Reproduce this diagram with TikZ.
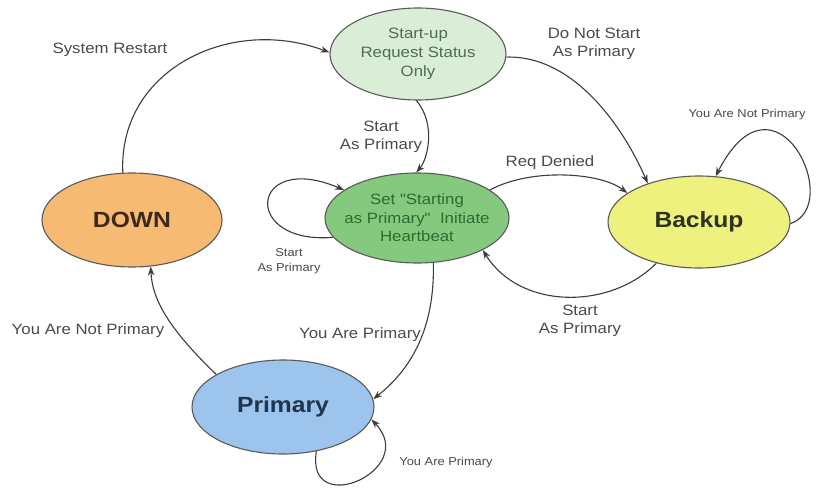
\documentclass[tikz,border=0pt]{standalone}
\usepackage{fontspec}
\setmainfont{Liberation Sans}
\newfontfamily\lfont[FakeStretch=1.12]{Liberation Sans}
\usetikzlibrary{shapes.geometric,arrows.meta}
\definecolor{outl}{HTML}{5A5A5A}
\definecolor{edgec}{HTML}{3C3C3C}
\definecolor{lblc}{HTML}{4A4A4A}
\definecolor{startfill}{HTML}{DAEDD6}
\definecolor{setfill}{HTML}{84C97E}
\definecolor{backfill}{HTML}{EFF17E}
\definecolor{downfill}{HTML}{F7BA73}
\definecolor{primfill}{HTML}{9DC4EC}
\definecolor{starttext}{HTML}{4D6E4D}
\definecolor{settext}{HTML}{2F6A2F}
\definecolor{downtext}{HTML}{3B2A1C}
\definecolor{backtext}{HTML}{2F3320}
\definecolor{primtext}{HTML}{1F3550}
\tikzset{
  state/.style={ellipse, draw=outl, line width=1.1pt, inner sep=0pt, align=center},
  edge/.style={draw=edgec, line width=1.1pt, -{Stealth[length=9pt,width=6.5pt]}},
  lbl/.style={text=lblc, font=\lfont\fontsize{15}{18}\selectfont, align=center, inner sep=0pt},
  slbl/.style={text=lblc, font=\lfont\fontsize{11.5}{15}\selectfont, align=center, inner sep=0pt},
  title/.style={font=\lfont\bfseries\fontsize{22}{26}\selectfont},
  inner/.style={font=\lfont\fontsize{15}{19}\selectfont},
}
\begin{document}
\begin{tikzpicture}[x=1pt,y=-1pt]
\fill[white] (0,0) rectangle (818,489);
\useasboundingbox (0,0) rectangle (818,489);

\node[state, fill=startfill, inner, text=starttext, minimum width=176pt, minimum height=92pt] (start) at (418,54) {Start-up\\Request Status\\Only};
\node[state, fill=setfill, text=settext, font=\lfont\fontsize{15}{18.5}\selectfont, inner xsep=-12pt, inner ysep=-4pt, minimum width=184pt, minimum height=90pt] (set) at (417,218) {Set "Starting\\as Primary"\ \ Initiate\\Heartbeat};
\node[state, fill=backfill, title, text=backtext, minimum width=182pt, minimum height=92pt] (backup) at (699,222) {Backup};
\node[state, fill=downfill, title, text=downtext, minimum width=180pt, minimum height=94pt] (down) at (132,220) {DOWN};
\node[state, fill=primfill, title, text=primtext, minimum width=182pt, minimum height=94pt] (primary) at (283,407) {Primary};

\draw[edge] (down.101) .. controls (118,70) and (230,15) .. (start.179);
\draw[edge] (start.358) .. controls (570,55) and (620,120) .. (backup.143);
\draw[edge] (start.268) .. controls (437,125) and (427,160) .. (set.91);
\draw[edge] (set.193) .. controls (240,245) and (250,150) .. (set.159);
\draw[edge] (set.21) .. controls (530,168) and (600,172) .. (backup.158);
\draw[edge] (backup.359) .. controls (845,205) and (775,60) .. (backup.70);
\draw[edge] (backup.224) .. controls (610,310) and (520,310) .. (set.334);
\draw[edge] (set.290) .. controls (435,330) and (410,370) .. (primary.5);
\draw[edge] (primary.154) .. controls (170,330) and (152,300) .. (down.292);
\draw[edge] (primary.307) .. controls (305,520) and (420,470) .. (primary.352);

\node[lbl] (lSys) at (110,50) {System Restart};
\node[lbl] (lDoNot) at (594,44) {Do Not Start\\As Primary};
\node[lbl] (lStart1) at (381,137) {Start\\As Primary};
\node[slbl] (lStart2) at (289,261) {Start\\As Primary};
\node[lbl] (lReq) at (550,163) {Req Denied};
\node[slbl] (lBkNot) at (747,115) {You Are Not Primary};
\node[lbl] (lStart3) at (580,321) {Start\\As Primary};
\node[lbl] (lYAP) at (360,335) {You Are Primary};
\node[lbl] (lYANP) at (88,331) {You Are Not Primary};
\node[slbl] (lPrimSelf) at (446,463) {You Are Primary};
\end{tikzpicture}
\end{document}
